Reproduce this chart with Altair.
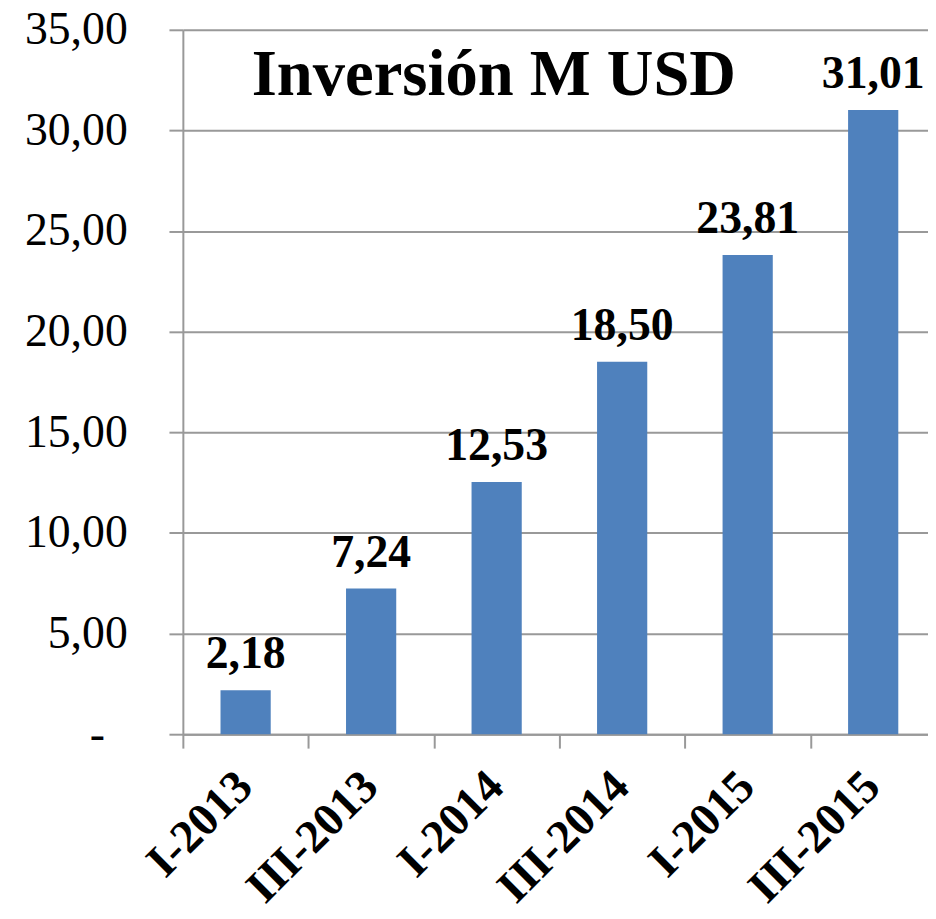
import altair as alt
import pandas as pd

periodos = ["I-2013", "III-2013", "I-2014", "III-2014", "I-2015", "III-2015"]
inversion = [2.18, 7.24, 12.53, 18.50, 23.81, 31.01]
titulo = "Inversión M USD"

df = pd.DataFrame({"periodo": periodos, "valor": inversion})

FONT = "Liberation Serif"
GRID = "#999999"
STEP = 758 / 6

x = alt.X(
    "periodo:N",
    sort=periodos,
    title=None,
    scale=alt.Scale(range=[0, 758], paddingInner=0.6, paddingOuter=0.3),
    axis=alt.Axis(
        labelAngle=-45,
        labelAlign="right",
        labelBaseline="alphabetic",
        labelFont=FONT,
        labelFontSize=47,
        labelFontWeight="bold",
        labelColor="black",
        labelPadding=41,
        labelOffset=STEP / 2 + 9,
        tickOffset=-STEP / 2,
        tickSize=14,
        tickColor=GRID,
        tickWidth=2,
        domainColor=GRID,
        domainWidth=2,
        grid=False,
    ),
)

y = alt.Y(
    "valor:Q",
    title=None,
    scale=alt.Scale(domain=[0, 35], nice=False),
    axis=alt.Axis(
        values=[0, 5, 10, 15, 20, 25, 30, 35],
        labelExpr="datum.value == 0 ? '-' : replace(format(datum.value, '.2f'), '.', ',')",
        labelFont=FONT,
        labelFontSize=46,
        labelColor="black",
        labelPadding={"condition": {"test": "datum.value === 0", "value": 65}, "value": 42},
        tickSize=14,
        tickColor=GRID,
        tickWidth=2,
        domainColor=GRID,
        domainWidth=2,
        gridColor=GRID,
        gridWidth=2,
    ),
)

bars = alt.Chart(df).mark_bar(color="#4F81BD").encode(x=x, y=y)

labels = (
    alt.Chart(df)
    .transform_calculate(etiqueta="replace(format(datum.valor, '.2f'), '.', ',')")
    .mark_text(
        font=FONT,
        fontSize=46,
        fontWeight="bold",
        color="black",
        baseline="alphabetic",
        dy=-22,
    )
    .encode(x=alt.X("periodo:N", sort=periodos), y="valor:Q", text="etiqueta:N")
)

title = (
    alt.Chart(pd.DataFrame({"t": [titulo]}))
    .mark_text(font=FONT, fontSize=65, fontWeight="bold", color="black", baseline="alphabetic")
    .encode(x=alt.value(313), y=alt.value(66), text="t:N")
)

chart = (
    alt.layer(bars, labels, title)
    .properties(
        width=750,
        height=709,
        autosize=alt.AutoSizeParams(type="none"),
        padding={"left": 176, "top": 19, "right": 0, "bottom": 173},
    )
    .configure_view(stroke=None)
)

chart.save("out.html", embed_options={"renderer": "svg", "actions": False})
